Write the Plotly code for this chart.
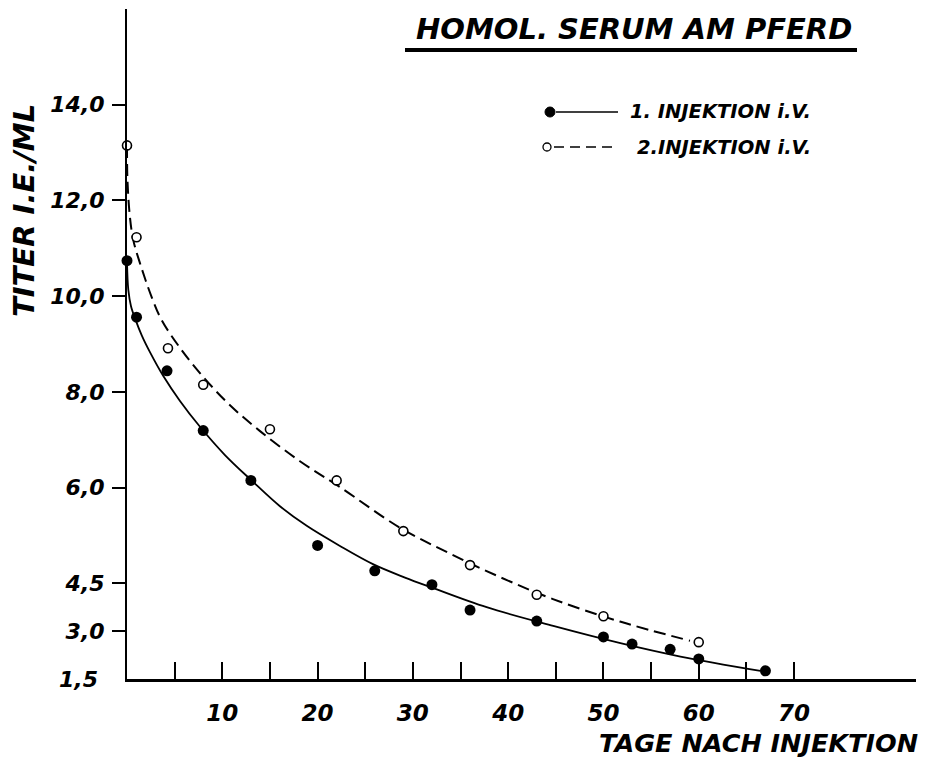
import plotly.graph_objects as go

# ---------------- data ----------------
days_1 = [0, 1, 4.2, 8, 13, 20, 26, 32, 36, 43, 50, 53, 57, 60, 67]
titer_1 = [10.74, 9.56, 8.44, 7.19, 6.15, 4.79, 4.26, 3.97, 3.44, 3.21, 2.88, 2.73, 2.62, 2.42, 2.17]

days_2 = [0, 1, 4.3, 8, 15, 22, 29, 36, 43, 50, 60]
titer_2 = [13.15, 11.23, 8.91, 8.15, 7.22, 6.15, 5.09, 4.38, 3.76, 3.31, 2.77]

curve_days_1 = [0, 0.14, 0.42, 0.91, 1.57, 2.41, 3.81, 5.56, 7.66, 10.28, 13.12, 16.05, 18.86,
                22.35, 25.81, 29.17, 32.0, 37.74, 44.73, 51.78, 58.08, 66.47]
curve_titer_1 = [10.73, 10.13, 9.79, 9.50, 9.17, 8.83, 8.33, 7.81, 7.27, 6.68, 6.14, 5.61, 5.20,
                 4.78, 4.40, 4.12, 3.91, 3.50, 3.11, 2.75, 2.47, 2.17]

curve_days_2 = [0, 0.05, 0.31, 0.66, 1.36, 2.59, 3.64, 5.56, 8.01, 10.81, 13.96, 18.15, 22.35,
                28.65, 33.89, 39.14, 44.7, 51.73, 59.08]
curve_titer_2 = [13.14, 12.41, 11.65, 11.17, 10.69, 9.98, 9.50, 8.92, 8.31, 7.72, 7.18, 6.55, 6.01,
                 5.16, 4.62, 4.13, 3.67, 3.20, 2.80]

y_tick_vals = [3, 4, 6, 8, 10, 12, 14]
y_tick_text = ["3,0", "4,5", "6,0", "8,0", "10,0", "12,0", "14,0"]
y_base_val = 2
y_base_text = "1,5"

x_tick_vals = [5, 10, 15, 20, 25, 30, 35, 40, 45, 50, 55, 60, 65, 70]
x_tick_text = ["", "10", "", "20", "", "30", "", "40", "", "50", "", "60", "", "70"]

title_text = "HOMOL. SERUM AM PFERD"
x_title = "TAGE NACH INJEKTION"
y_title = "TITER I.E./ML"
legend_1 = "1. INJEKTION i.V."
legend_2 = "2.INJEKTION i.V."

# ---------------- layout helpers ----------------
W, H = 927, 760
ML, MR, MT, MB = 127, 11, 9, 81
PW, PH = W - ML - MR, H - MT - MB


def px(x):
    return (x - ML) / PW


def py(y):
    return (H - MB - y) / PH


def fnt(size):
    return dict(family="DejaVu Sans", size=size, color="black", weight="bold", style="italic")


fig = go.Figure()

fig.add_trace(go.Scatter(x=curve_days_1, y=curve_titer_1, mode="lines",
                         line=dict(color="black", width=1.8, shape="spline", smoothing=1.0),
                         hoverinfo="skip", cliponaxis=False))
fig.add_trace(go.Scatter(x=curve_days_2, y=curve_titer_2, mode="lines",
                         line=dict(color="black", width=2, shape="spline", smoothing=1.0, dash="12px,6px"),
                         hoverinfo="skip", cliponaxis=False))
fig.add_trace(go.Scatter(x=days_1, y=titer_1, mode="markers",
                         marker=dict(symbol="circle", size=11, color="black"),
                         cliponaxis=False))
fig.add_trace(go.Scatter(x=days_2, y=titer_2, mode="markers",
                         marker=dict(symbol="circle", size=9, color="white",
                                     line=dict(color="black", width=1.6)),
                         cliponaxis=False))

shapes = [
    # title underline
    dict(type="line", xref="paper", yref="paper", x0=px(405), x1=px(857), y0=py(50), y1=py(50),
         line=dict(color="black", width=4)),
    # legend row 1
    dict(type="circle", xref="paper", yref="paper", x0=px(545), x1=px(555), y0=py(107), y1=py(117),
         fillcolor="black", line=dict(color="black", width=1)),
    dict(type="line", xref="paper", yref="paper", x0=px(556), x1=px(618), y0=py(112), y1=py(112),
         line=dict(color="black", width=1.6)),
    # legend row 2
    dict(type="circle", xref="paper", yref="paper", x0=px(543), x1=px(551), y0=py(143), y1=py(151),
         fillcolor="white", line=dict(color="black", width=1.3)),
    dict(type="line", xref="paper", yref="paper", x0=px(554), x1=px(618), y0=py(147), y1=py(147),
         line=dict(color="black", width=1.6, dash="10px,6px")),
]

annotations = [
    dict(text=title_text, xref="paper", yref="paper", x=px(634), y=py(29), xanchor="center",
         yanchor="middle", showarrow=False, font=fnt(29)),
    dict(text=legend_1, xref="paper", yref="paper", x=px(628), y=py(112), xanchor="left",
         yanchor="middle", showarrow=False, font=fnt(19.5)),
    dict(text=legend_2, xref="paper", yref="paper", x=px(635), y=py(147), xanchor="left",
         yanchor="middle", showarrow=False, font=fnt(19.5)),
    dict(text=x_title, xref="paper", yref="paper", x=px(920), y=py(743), xanchor="right",
         yanchor="middle", showarrow=False, font=fnt(25.5)),
    dict(text=y_title, xref="paper", yref="paper", x=px(24), y=py(211), xanchor="center",
         yanchor="middle", textangle=-90, showarrow=False, font=fnt(29)),
    dict(text=y_base_text, xref="paper", yref="y", x=px(100), y=y_base_val, xanchor="right",
         yanchor="middle", showarrow=False, font=fnt(22)),
]

fig.update_layout(
    width=W, height=H,
    margin=dict(l=ML, r=MR, t=MT, b=MB, pad=0),
    paper_bgcolor="white", plot_bgcolor="white",
    showlegend=False,
    shapes=shapes, annotations=annotations,
    xaxis=dict(range=[0, 82.8], showgrid=False, zeroline=False, showline=True,
               linecolor="black", linewidth=2.5, ticks="inside", ticklen=17, tickwidth=1.6,
               tickcolor="black", tickvals=x_tick_vals, ticktext=x_tick_text,
               tickfont=fnt(23), ticklabelstandoff=12),
    yaxis=dict(range=[2, 16], showgrid=False, zeroline=False, showline=True,
               linecolor="black", linewidth=2, ticks="outside", ticklen=13, tickwidth=1.6,
               tickcolor="black", tickvals=y_tick_vals, ticktext=y_tick_text,
               tickfont=fnt(22), ticklabelstandoff=3),
)

fig.write_html("out.html")
